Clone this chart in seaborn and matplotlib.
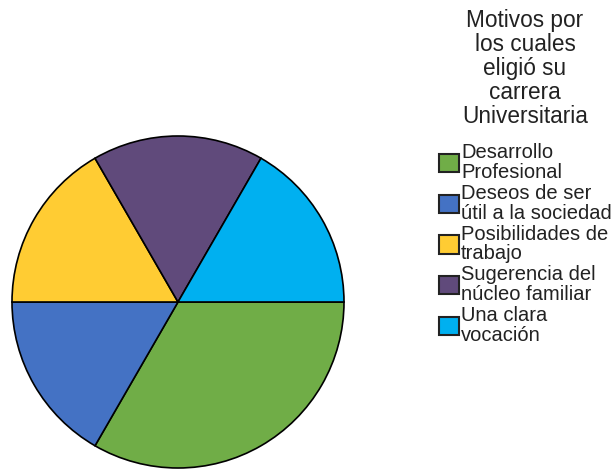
import matplotlib
matplotlib.use("Agg")
import matplotlib.pyplot as plt
import matplotlib.patches as mpatches
import seaborn as sns

# data
motivos = ["Desarrollo\nProfesional", "Deseos de ser\nútil a la sociedad",
           "Posibilidades de\ntrabajo", "Sugerencia del\nnúcleo familiar",
           "Una clara\nvocación"]
frecuencia = [2, 1, 1, 1, 1]
colores = ["#70AD47", "#4472C4", "#FFCC33", "#604A7B", "#00B0F0"]
titulo = "Motivos por\nlos cuales\neligió su\ncarrera\nUniversitaria"

sns.set_theme(style="white")
plt.rcParams["font.family"] = ["Liberation Sans", "DejaVu Sans"]

fig = plt.figure(figsize=(6.12, 4.7), dpi=100)
# pie centre ~ (178, 302) px, radius ~166 px
r = 166
ax = fig.add_axes([(178 - r) / 612, (470 - 302 - r) / 470, 2 * r / 612, 2 * r / 470])
wedges, _ = ax.pie(frecuencia, colors=colores, startangle=0, counterclock=False,
                   wedgeprops=dict(edgecolor="black", linewidth=1.2))
for w in wedges:
    w.set_clip_on(False)
ax.set_xlim(-1, 1)
ax.set_ylim(-1, 1)
ax.set_aspect("equal")
ax.axis("off")

fig.text(525 / 612, 1 - 9 / 470, titulo, ha="center", va="top",
         fontsize=16.3, linespacing=1.05, color="#222222")

handles = [mpatches.Patch(facecolor=c, edgecolor="#222222", linewidth=1.5) for c in colores]
leg = fig.legend(handles, motivos, loc="upper left",
                 bbox_to_anchor=(439 / 612, 1 - 143 / 470), frameon=False,
                 prop={"size": 14.5}, handlelength=1.0, handleheight=1.0,
                 handletextpad=0.1, labelspacing=0.1, borderpad=0, borderaxespad=0)
for t in leg.get_texts():
    t.set_linespacing(1.05)
    t.set_color("#222222")

fig.savefig("out.png", dpi=100)
